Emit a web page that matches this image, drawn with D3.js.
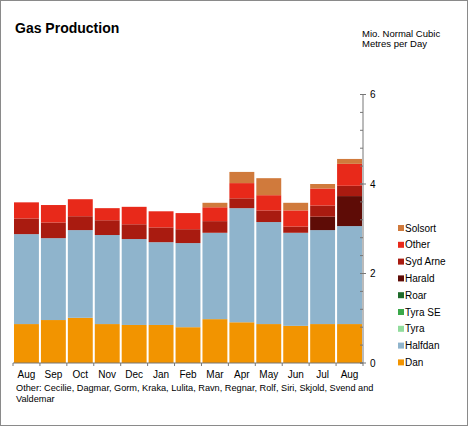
<!DOCTYPE html>
<html><head><meta charset="utf-8">
<script src="https://cdn.jsdelivr.net/npm/d3@7"></script>
<style>
body{margin:0;background:#fff;}
svg{display:block;font-family:"Liberation Sans",Arial,sans-serif;}
</style></head>
<body><svg id="c" width="468" height="426"></svg>
<script>
const months = ["Aug","Sep","Oct","Nov","Dec","Jan","Feb","Mar","Apr","May","Jun","Jul","Aug"];
const seriesNames = ["Dan","Halfdan","Tyra","Tyra SE","Roar","Harald","Syd Arne","Other","Solsort"];
const colors = ["#f29400","#8fb4cc","#91dc9c","#3aa84a","#1e6a2a","#5e0c06","#a91b10","#e8291a","#d07a3c"];
const dan     = [0.87,0.96,1.01,0.87,0.85,0.85,0.80,0.98,0.91,0.87,0.83,0.87,0.87];
const halfdan = [2.01,1.83,1.96,1.99,1.92,1.85,1.88,1.93,2.55,2.28,2.08,2.10,2.19];
const tyra    = [0,0,0,0,0,0,0,0,0,0,0,0,0];
const tyraSE  = [0,0,0,0,0,0,0,0,0,0,0,0,0];
const roar    = [0,0,0,0,0,0,0,0,0,0,0,0,0];
const harald  = [0,0,0,0,0,0,0,0,0,0,0,0.30,0.67];
const sydArne = [0.35,0.35,0.31,0.33,0.33,0.33,0.31,0.26,0.22,0.26,0.14,0.25,0.23];
const other   = [0.36,0.39,0.38,0.27,0.39,0.36,0.36,0.31,0.34,0.34,0.36,0.38,0.49];
const solsort = [0,0,0,0,0,0,0,0.10,0.25,0.38,0.17,0.10,0.11];
const yTicks = [0,2,4,6];
const note = ["Other: Cecilie, Dagmar, Gorm, Kraka, Lulita, Ravn, Regnar, Rolf, Siri, Skjold, Svend and","Valdemar"];

const vals = [dan,halfdan,tyra,tyraSE,roar,harald,sydArne,other,solsort];
const rows = months.map((m,i)=>{const r={idx:i,month:m}; seriesNames.forEach((s,j)=>r[s]=vals[j][i]); return r;});
const stack = d3.stack().keys(seriesNames)(rows);

const svg = d3.select("#c");
svg.append("rect").attr("x",0.5).attr("y",0.5).attr("width",467).attr("height",425).attr("fill","#fff").attr("stroke","#8a8a8a");

const x = d3.scaleBand().domain(d3.range(months.length)).range([13,363]).paddingInner(0.075).paddingOuter(0.0375);
const y = d3.scaleLinear().domain([0,6]).range([363,94.5]);

const g = svg.append("g");
stack.forEach((layer,j)=>{
  g.selectAll(null).data(layer.filter(d=>d[1]-d[0]>0)).join("rect")
    .attr("x",d=>x(d.data.idx)).attr("width",x.bandwidth())
    .attr("y",d=>y(d[1])).attr("height",d=>y(d[0])-y(d[1]))
    .attr("fill",colors[j]);
});

// x axis
const xa = svg.append("g").attr("transform","translate(0,363)");
xa.append("line").attr("x1",13).attr("x2",363).attr("stroke","#777");
d3.range(months.length+1).forEach(i=>{
  const xx = 13 + i*(350/months.length);
  xa.append("line").attr("x1",xx).attr("x2",xx).attr("y1",0).attr("y2",3).attr("stroke","#777");
});
xa.selectAll("text").data(months).join("text")
  .attr("x",(d,i)=>x(i)+x.bandwidth()/2).attr("y",15)
  .attr("text-anchor","middle").attr("font-size",10).attr("fill","#000").text(d=>d);

// y axis right
const ya = svg.append("g").attr("transform","translate(363,0)");
ya.append("line").attr("y1",y(0)).attr("y2",y(6)).attr("stroke","#777");
d3.range(0,6.001,0.4).forEach(v=>{
  ya.append("line").attr("x1",-3).attr("x2",0).attr("y1",y(v)).attr("y2",y(v)).attr("stroke","#777");
});
yTicks.forEach(v=>{
  ya.append("line").attr("x1",-3).attr("x2",3).attr("y1",y(v)).attr("y2",y(v)).attr("stroke","#777");
  ya.append("text").attr("x",7).attr("y",y(v)+3.5).attr("font-size",10).attr("fill","#000").text(v);
});

// title
svg.append("text").attr("x",15).attr("y",33).attr("font-size",14).attr("font-weight","bold").attr("fill","#000").text("Gas Production");
svg.append("text").attr("x",362).attr("y",37).attr("font-size",9.5).attr("fill","#000").text("Mio. Normal Cubic");
svg.append("text").attr("x",362).attr("y",47).attr("font-size",9.5).attr("fill","#000").text("Metres per Day");

// legend (top to bottom: reversed)
const leg = svg.append("g");
seriesNames.slice().reverse().forEach((s,k)=>{
  const j = seriesNames.length-1-k;
  const yy = 228 + k*16.8;
  leg.append("rect").attr("x",398).attr("y",yy-3).attr("width",6).attr("height",6).attr("fill",colors[j]);
  leg.append("text").attr("x",405).attr("y",yy+3.5).attr("font-size",10).attr("fill","#000").text(s);
});

// note
note.forEach((t,i)=>svg.append("text").attr("x",16).attr("y",391+i*11).attr("font-size",9.2).attr("fill","#000").text(t));
</script></body></html>
